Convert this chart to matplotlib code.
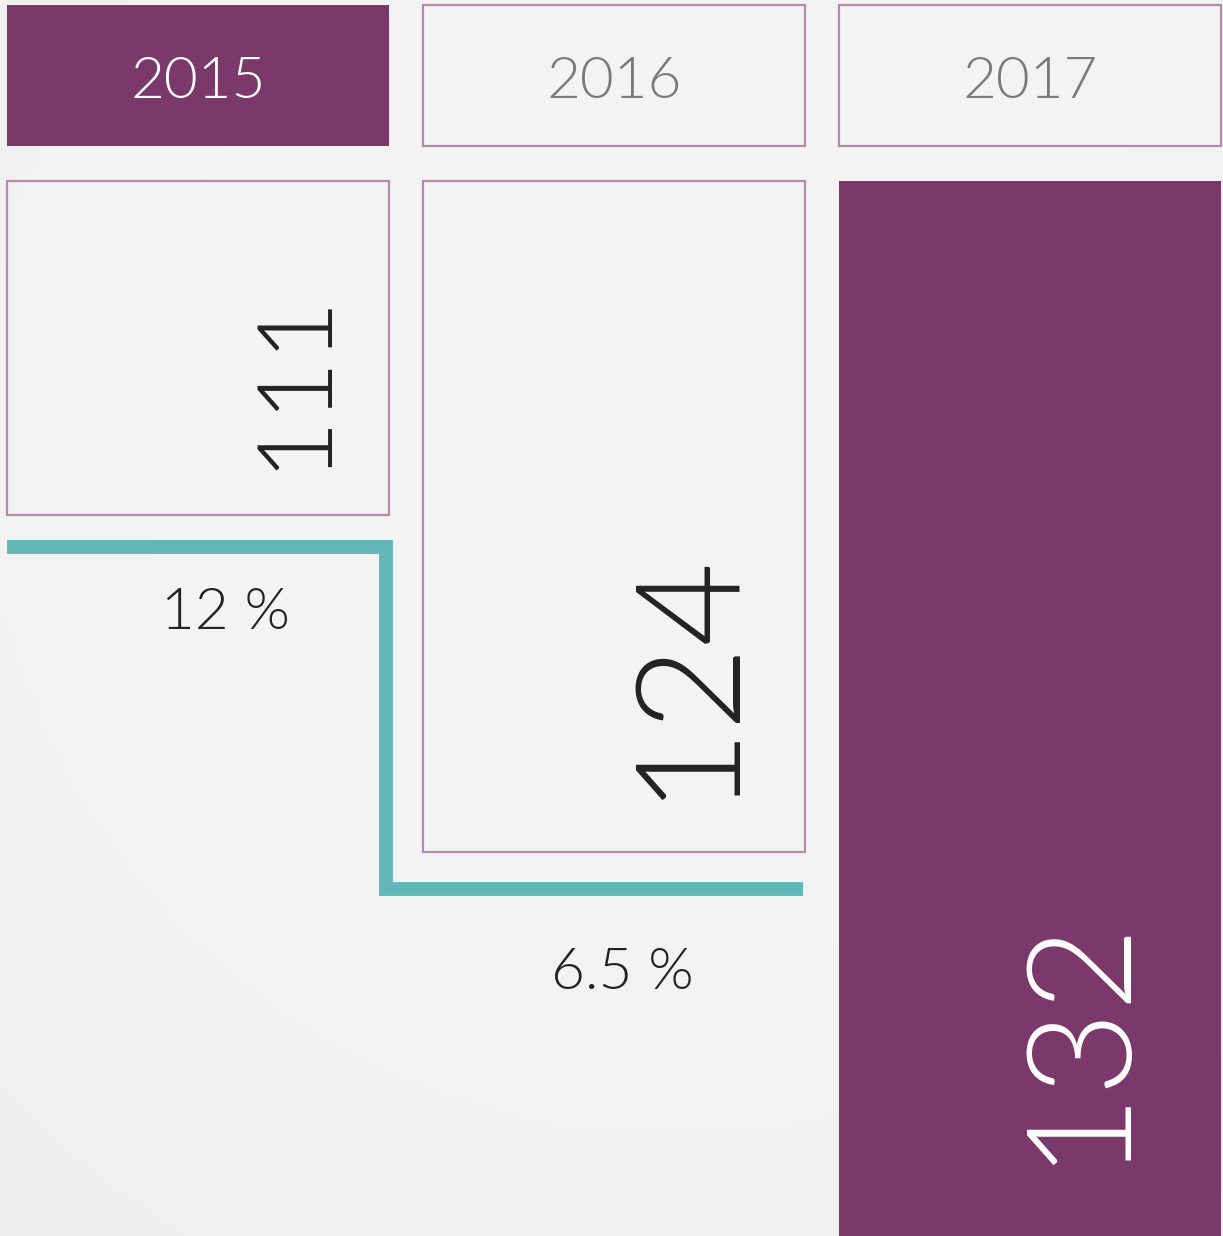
import matplotlib
matplotlib.use("Agg")
import matplotlib.pyplot as plt
import matplotlib.transforms as mtransforms
import numpy as np

plt.rcParams['font.family'] = ['Lato', 'DejaVu Sans']

# data
years = ['2015', '2016', '2017']
values = [111, 124, 132]
growth = ['12 %', '6.5 %']
highlight = [False, False, True]   # bar filled purple
head_fill = [True, False, False]   # header filled purple
value_size = [75, 105, 105]
# label offsets from bar corner (px): in from right, up from bottom
lab_in = [67, 79, 104]
lab_up = [45, 52, 71]

purple = '#7b396b'
border = '#b48bac'
teal = '#62b8b9'
wt = 300

W, H = 1223, 1236
fig = plt.figure(figsize=(W / 100, H / 100), dpi=100)

# background
bg = fig.add_axes([0, 0, 1, 1])
yy, xx = np.mgrid[0:1:200j, 0:1:200j]
shade = 0.955 - 0.03 * ((xx - 0.55) ** 2 + (yy - 0.35) ** 2)
bg.imshow(shade, cmap='gray', vmin=0, vmax=1, aspect='auto', extent=[0, 1, 0, 1])
bg.axis('off')

xpos = np.arange(len(years))
bw = 382 / 416
xlim = (-198 / 416, (W - 198) / 416)

# header row
hax = fig.add_axes([0, (H - 146) / H, 1, 141 / H])
hax.set_xlim(*xlim)
hax.set_ylim(0, 1)
hax.axis('off')
for i, y in enumerate(years):
    if head_fill[i]:
        hax.bar(xpos[i], 1, bw, bottom=0, color=purple, edgecolor='none', clip_on=False)
        c = 'white'
    else:
        hax.bar(xpos[i], 1, bw, bottom=0, facecolor='none', edgecolor=border, lw=1.6, clip_on=False)
        c = '#7a7a7a'
    hax.text(xpos[i], 0.45, y, ha='center', va='center', fontsize=42, color=c, fontweight=wt)

# hanging bars
base = 98.1
scale = 25.9  # px per unit
ax = fig.add_axes([0, 0, 1, 1055 / H])
ax.set_xlim(*xlim)
ymax = base + 1055 / scale
ax.set_ylim(ymax, base)
ax.axis('off')

for i, v in enumerate(values):
    if highlight[i]:
        ax.bar(xpos[i], ymax - base, bw, bottom=base, color=purple, edgecolor='none')
        end = ymax
        tc = 'white'
    else:
        ax.bar(xpos[i], v - base, bw, bottom=base, facecolor='none', edgecolor=border, lw=1.6, clip_on=False)
        end = v
        tc = '#222222'
    tr = mtransforms.offset_copy(ax.transData, fig=fig, x=-lab_in[i] * 0.72, y=lab_up[i] * 0.72, units='points')
    ax.text(xpos[i] + bw / 2, end, str(v), rotation=90, rotation_mode='anchor',
            ha='left', va='baseline', fontsize=value_size[i], color=tc,
            fontweight=wt, transform=tr)

# growth step line
off = [1.25, 1.43]
x0 = xpos[0] - bw / 2
x1 = xpos[0] + bw / 2 - 3 / 416
x2 = xpos[1] + bw / 2 - 2 / 416
ax.plot([x0, x1, x1, x2], [values[0] + off[0], values[0] + off[0], values[1] + off[1], values[1] + off[1]],
        color=teal, lw=10, solid_joinstyle='miter', solid_capstyle='butt')

ax.text(xpos[0] + 27 / 416, values[0] + off[0] + 2.55, growth[0], ha='center', va='center',
        fontsize=42, color='#222222', fontweight=wt)
ax.text(xpos[1] + 8 / 416, values[1] + off[1] + 3.25, growth[1], ha='center', va='center',
        fontsize=42, color='#222222', fontweight=wt)

fig.savefig('out.png', dpi=100)
